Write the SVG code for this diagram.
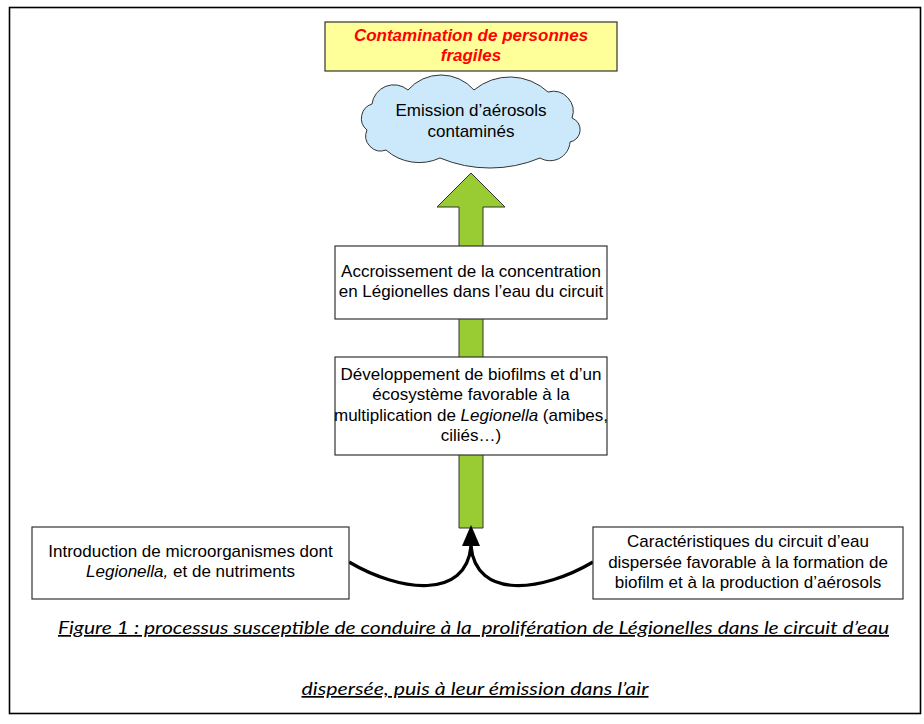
<svg xmlns="http://www.w3.org/2000/svg" width="924" height="724" viewBox="0 0 924 724">
<defs>
<style>
.t{font-family:"Liberation Sans",Arial,sans-serif;font-size:17px;fill:#000;text-anchor:middle}
.box{fill:#fff;stroke:#333;stroke-width:1.2}
.red{font-weight:bold;font-style:italic;fill:#ff0000}
.cap{font-family:Lato,"Open Sans",sans-serif;font-style:italic;font-size:17px;text-decoration:underline;text-anchor:middle;white-space:pre}
.conn{fill:none;stroke:#000;stroke-width:3.2}
</style>
</defs>
<rect x="9.5" y="7.5" width="911" height="706" fill="#fff" stroke="#000" stroke-width="1.6"/>

<g id="green-arrow">
<polygon points="471,173 505,207 483,207 483,528 459,528 459,207 437,207" fill="#99cc33" stroke="#333" stroke-width="1"/>
</g>

<g id="connectors">
<path class="conn" d="M349,562 C400,592 466,600 471,546"/>
<path class="conn" d="M593,562 C542,592 476,600 471,546"/>
<polygon points="471,525 480,546 462,546" fill="#000"/>
</g>

<g id="node-contamination">
<rect x="325" y="22" width="292" height="49" fill="#ffff99" stroke="#333" stroke-width="1.2"/>
<text class="t red" x="471" y="41">Contamination de personnes</text>
<text class="t red" x="471" y="61">fragiles</text>
</g>

<g id="node-emission">
<path d="M367,130 A15 15 0 0 1 372,104 A22 22 0 0 1 408,90 A43.8 43.8 0 0 1 474,90 A55.9 55.9 0 0 1 548,92 A20 20 0 0 1 572,118 A12.5 12.5 0 0 1 570,142 A20 20 0 0 1 540,158 A130 130 0 0 1 440,158 A50 50 0 0 1 386,150 A15 15 0 0 1 367,130 Z" fill="#cce9fb" stroke="#333" stroke-width="1"/>
<text class="t" x="471" y="116">Emission d’aérosols</text>
<text class="t" x="471" y="137">contaminés</text>
</g>

<g id="node-accroissement">
<rect class="box" x="335" y="246" width="272" height="73"/>
<text class="t" x="471" y="277">Accroissement de la concentration</text>
<text class="t" x="471" y="297">en Légionelles dans l’eau du circuit</text>
</g>

<g id="node-developpement">
<rect class="box" x="335" y="357" width="272" height="98"/>
<text class="t" x="471" y="380">Développement de biofilms et d’un</text>
<text class="t" x="471" y="400">écosystème favorable à la</text>
<text class="t" x="471" y="421">multiplication de <tspan font-style="italic">Legionella</tspan> (amibes,</text>
<text class="t" x="471" y="441">ciliés…)</text>
</g>

<g id="node-introduction">
<rect class="box" x="32" y="527" width="317" height="72"/>
<text class="t" x="190.5" y="557">Introduction de microorganismes dont</text>
<text class="t" x="190.5" y="577"><tspan font-style="italic">Legionella,</tspan> et de nutriments</text>
</g>

<g id="node-caracteristiques">
<rect class="box" x="593" y="527" width="310" height="72"/>
<text class="t" x="748" y="547">Caractéristiques du circuit d’eau</text>
<text class="t" x="748" y="568">dispersée favorable à la formation de</text>
<text class="t" x="748" y="588">biofilm et à la production d’aérosols</text>
</g>

<g id="caption">
<text class="cap" x="473.5" y="634" textLength="831" lengthAdjust="spacingAndGlyphs">Figure 1 : processus susceptible de conduire à la  prolifération de Légionelles dans le circuit d’eau</text>
<text class="cap" x="475" y="695" textLength="347" lengthAdjust="spacingAndGlyphs">dispersée, puis à leur émission dans l’air</text>
</g>
</svg>
